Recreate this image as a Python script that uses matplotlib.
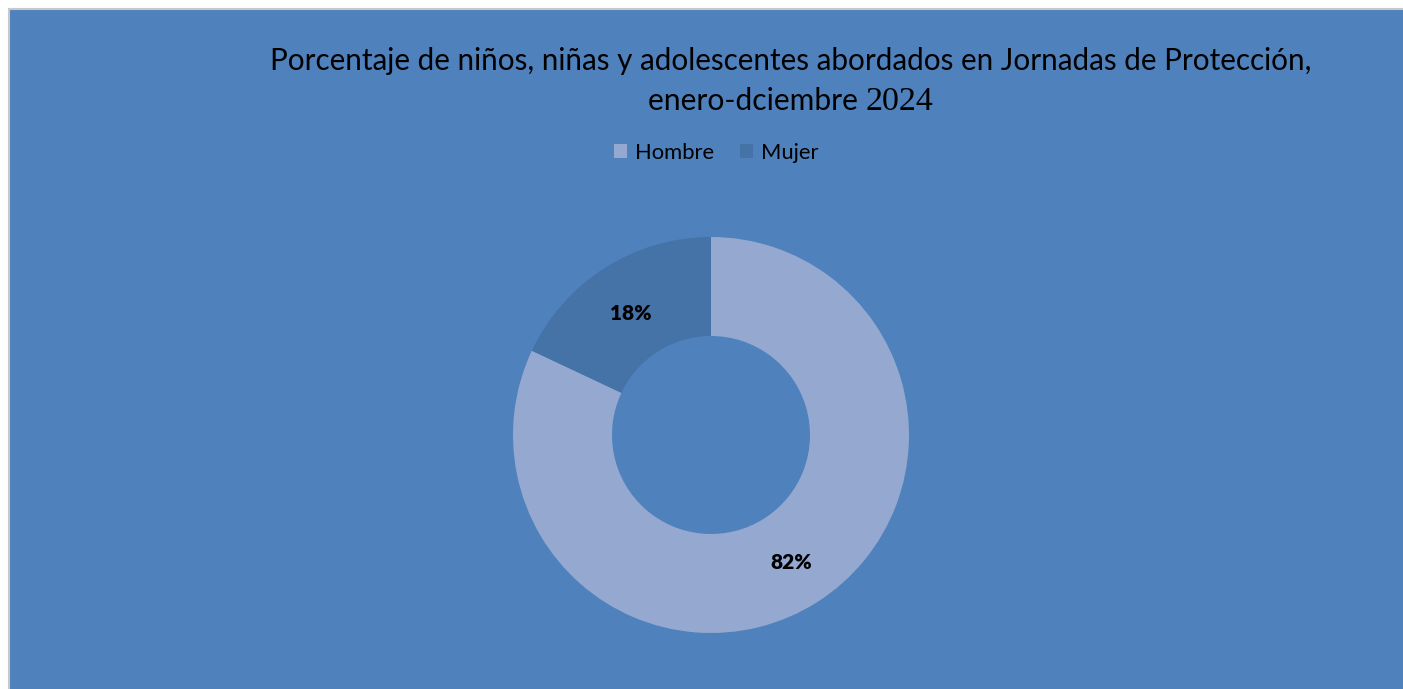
import matplotlib
matplotlib.use("Agg")
import matplotlib.pyplot as plt
from matplotlib.lines import Line2D

# data
labels = ["Hombre", "Mujer"]
values = [82, 18]
colors = ["#95a9d0", "#4573a7"]
bg = "#4f81bd"

title_1 = "Porcentaje de niños, niñas y adolescentes abordados en Jornadas de Protección,"
title_2a = "enero-dciembre "
title_2b = "2024"

W, H = 1403, 689
fig = plt.figure(figsize=(W / 100, H / 100), dpi=100, facecolor="white")

# blue chart area (background axes) with thin grey border on top / left
bax = fig.add_axes([9 / W, -0.02, 1.0, 1.02 - 9 / H], zorder=-10)
bax.set_facecolor(bg)
bax.set_xticks([])
bax.set_yticks([])
for s in bax.spines.values():
    s.set_visible(False)
fig.lines.append(Line2D([8.5 / W, 1.01], [1 - 8.5 / H] * 2, transform=fig.transFigure,
                        color="#c8c8c8", linewidth=1.5))
fig.lines.append(Line2D([8.5 / W] * 2, [-0.01, 1 - 8.5 / H], transform=fig.transFigure,
                        color="#c8c8c8", linewidth=1.5))

sans = ["Lato", "DejaVu Sans"]

# donut, centre (711, 435) px, radius 198 px
cx, cy, r = 711, 435, 198
ax = fig.add_axes([(cx - r) / W, (H - cy - r) / H, 2 * r / W, 2 * r / H])
ax.set_facecolor("none")
wedges, texts, autotexts = ax.pie(values, colors=colors, startangle=90, counterclock=False,
                                  radius=1, wedgeprops=dict(width=0.5, linewidth=0),
                                  autopct="%1.0f%%", pctdistance=0.76)
for t in autotexts:
    t.set_fontfamily(sans)
    t.set_fontweight("heavy")
    t.set_fontsize(15)
    t.set_color("black")
autotexts[1].set_y(autotexts[1].get_position()[1] - 0.03)
ax.set_xlim(-1, 1)
ax.set_ylim(-1, 1)
ax.axis("off")

# title
fig.text(791 / W, 1 - 61 / H, title_1, ha="center", va="center", fontsize=21.3,
         family=sans, color="black")

renderer = fig.canvas.get_renderer()
ta = fig.text(0, 1 - 110 / H, title_2a, ha="left", va="baseline", fontsize=21.6,
              family=sans, color="black")
tb = fig.text(0, 1 - 110 / H, title_2b, ha="left", va="baseline", fontsize=24.5,
              family=["Liberation Serif", "DejaVu Serif"], color="black")
wa = ta.get_window_extent(renderer).width
wb = tb.get_window_extent(renderer).width
x0 = 791 - (wa + wb) / 2
ta.set_x(x0 / W)
tb.set_x((x0 + wa) / W)

# legend
leg = fig.legend(wedges, labels, loc="center", bbox_to_anchor=(716 / W, 1 - 153 / H),
                 ncol=2, frameon=False, handlelength=0.6, handleheight=0.6,
                 handletextpad=0.35, columnspacing=1.2, prop=dict(family=sans, size=15.8))

fig.savefig("out.png", dpi=100, facecolor="white")
